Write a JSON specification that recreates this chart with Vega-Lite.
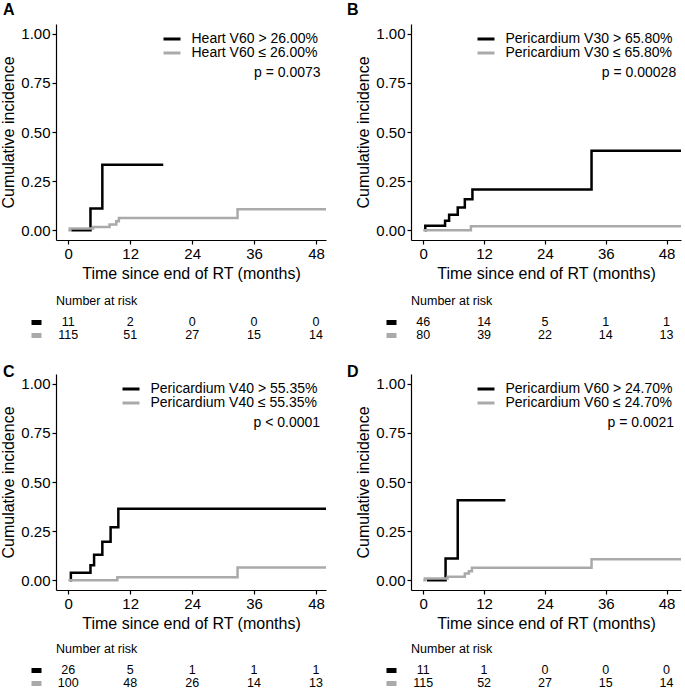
{
"$schema": "https://vega.github.io/schema/vega-lite/v6.json",
"padding": {"left": 0, "top": 2, "right": 0, "bottom": 0},
"config": {
  "font": "Liberation Sans",
  "view": {"stroke": null},
  "axis": {"grid": false, "domainColor": "black", "tickColor": "black", "labelColor": "black", "titleColor": "black", "labelFontSize": 15, "titleFontSize": 16, "titleFontWeight": "normal", "domainWidth": 1.2, "tickWidth": 1.2, "tickSize": 4, "labelPadding": 2, "titlePadding": 4},
  "legend": {"orient": "top-right", "offset": 8, "title": null, "symbolType": "M-1.7,0H1.7", "symbolSize": 100, "symbolStrokeWidth": 3, "symbolFillColor": "transparent", "labelFontSize": 14, "labelColor": "black", "labelOffset": 12.5, "labelLimit": 0, "rowPadding": 0, "padding": 0},
  "title": {"anchor": "start", "frame": "group", "color": "black"}
},
"datasets": {
  "curveA": [
    {"g": "Heart V60 > 26.00%", "t": 0.6, "ci": 0}, {"g": "Heart V60 > 26.00%", "t": 4.3, "ci": 0.111}, {"g": "Heart V60 > 26.00%", "t": 6.6, "ci": 0.333}, {"g": "Heart V60 > 26.00%", "t": 18.4, "ci": 0.333},
    {"g": "Heart V60 ≤ 26.00%", "t": 0, "ci": 0}, {"g": "Heart V60 ≤ 26.00%", "t": 0.3, "ci": 0.009}, {"g": "Heart V60 ≤ 26.00%", "t": 4.8, "ci": 0.016}, {"g": "Heart V60 ≤ 26.00%", "t": 8.0, "ci": 0.029}, {"g": "Heart V60 ≤ 26.00%", "t": 9.3, "ci": 0.046}, {"g": "Heart V60 ≤ 26.00%", "t": 9.8, "ci": 0.062}, {"g": "Heart V60 ≤ 26.00%", "t": 32.8, "ci": 0.107}, {"g": "Heart V60 ≤ 26.00%", "t": 49.94, "ci": 0.107}
  ],
  "curveB": [
    {"g": "Pericardium V30 > 65.80%", "t": 0.3, "ci": 0}, {"g": "Pericardium V30 > 65.80%", "t": 0.4, "ci": 0.022}, {"g": "Pericardium V30 > 65.80%", "t": 4.3, "ci": 0.048}, {"g": "Pericardium V30 > 65.80%", "t": 5.1, "ci": 0.079}, {"g": "Pericardium V30 > 65.80%", "t": 6.8, "ci": 0.116}, {"g": "Pericardium V30 > 65.80%", "t": 8.2, "ci": 0.158}, {"g": "Pericardium V30 > 65.80%", "t": 9.7, "ci": 0.207}, {"g": "Pericardium V30 > 65.80%", "t": 33.2, "ci": 0.405}, {"g": "Pericardium V30 > 65.80%", "t": 50.85, "ci": 0.405},
    {"g": "Pericardium V30 ≤ 65.80%", "t": 0, "ci": 0}, {"g": "Pericardium V30 ≤ 65.80%", "t": 9.4, "ci": 0.02}, {"g": "Pericardium V30 ≤ 65.80%", "t": 50.85, "ci": 0.02}
  ],
  "curveC": [
    {"g": "Pericardium V40 > 55.35%", "t": 0.3, "ci": 0}, {"g": "Pericardium V40 > 55.35%", "t": 0.5, "ci": 0.038}, {"g": "Pericardium V40 > 55.35%", "t": 4.3, "ci": 0.076}, {"g": "Pericardium V40 > 55.35%", "t": 5.0, "ci": 0.13}, {"g": "Pericardium V40 > 55.35%", "t": 6.6, "ci": 0.196}, {"g": "Pericardium V40 > 55.35%", "t": 8.2, "ci": 0.27}, {"g": "Pericardium V40 > 55.35%", "t": 9.7, "ci": 0.364}, {"g": "Pericardium V40 > 55.35%", "t": 49.94, "ci": 0.364},
    {"g": "Pericardium V40 ≤ 55.35%", "t": 0, "ci": 0}, {"g": "Pericardium V40 ≤ 55.35%", "t": 9.5, "ci": 0.015}, {"g": "Pericardium V40 ≤ 55.35%", "t": 32.8, "ci": 0.064}, {"g": "Pericardium V40 ≤ 55.35%", "t": 49.94, "ci": 0.064}
  ],
  "curveD": [
    {"g": "Pericardium V60 > 24.70%", "t": 0.7, "ci": 0}, {"g": "Pericardium V60 > 24.70%", "t": 4.4, "ci": 0.111}, {"g": "Pericardium V60 > 24.70%", "t": 6.8, "ci": 0.407}, {"g": "Pericardium V60 > 24.70%", "t": 16.2, "ci": 0.407},
    {"g": "Pericardium V60 ≤ 24.70%", "t": 0, "ci": 0}, {"g": "Pericardium V60 ≤ 24.70%", "t": 0.3, "ci": 0.009}, {"g": "Pericardium V60 ≤ 24.70%", "t": 4.8, "ci": 0.017}, {"g": "Pericardium V60 ≤ 24.70%", "t": 8.2, "ci": 0.034}, {"g": "Pericardium V60 ≤ 24.70%", "t": 9.0, "ci": 0.045}, {"g": "Pericardium V60 ≤ 24.70%", "t": 9.6, "ci": 0.063}, {"g": "Pericardium V60 ≤ 24.70%", "t": 33.2, "ci": 0.106}, {"g": "Pericardium V60 ≤ 24.70%", "t": 50.85, "ci": 0.106}
  ],
  "riskA": [
    {"g": "hi", "t": 0, "n": 11}, {"g": "hi", "t": 12, "n": 2}, {"g": "hi", "t": 24, "n": 0}, {"g": "hi", "t": 36, "n": 0}, {"g": "hi", "t": 48, "n": 0},
    {"g": "lo", "t": 0, "n": 115}, {"g": "lo", "t": 12, "n": 51}, {"g": "lo", "t": 24, "n": 27}, {"g": "lo", "t": 36, "n": 15}, {"g": "lo", "t": 48, "n": 14}
  ],
  "riskB": [
    {"g": "hi", "t": 0, "n": 46}, {"g": "hi", "t": 12, "n": 14}, {"g": "hi", "t": 24, "n": 5}, {"g": "hi", "t": 36, "n": 1}, {"g": "hi", "t": 48, "n": 1},
    {"g": "lo", "t": 0, "n": 80}, {"g": "lo", "t": 12, "n": 39}, {"g": "lo", "t": 24, "n": 22}, {"g": "lo", "t": 36, "n": 14}, {"g": "lo", "t": 48, "n": 13}
  ],
  "riskC": [
    {"g": "hi", "t": 0, "n": 26}, {"g": "hi", "t": 12, "n": 5}, {"g": "hi", "t": 24, "n": 1}, {"g": "hi", "t": 36, "n": 1}, {"g": "hi", "t": 48, "n": 1},
    {"g": "lo", "t": 0, "n": 100}, {"g": "lo", "t": 12, "n": 48}, {"g": "lo", "t": 24, "n": 26}, {"g": "lo", "t": 36, "n": 14}, {"g": "lo", "t": 48, "n": 13}
  ],
  "riskD": [
    {"g": "hi", "t": 0, "n": 11}, {"g": "hi", "t": 12, "n": 1}, {"g": "hi", "t": 24, "n": 0}, {"g": "hi", "t": 36, "n": 0}, {"g": "hi", "t": 48, "n": 0},
    {"g": "lo", "t": 0, "n": 115}, {"g": "lo", "t": 12, "n": 52}, {"g": "lo", "t": 24, "n": 27}, {"g": "lo", "t": 36, "n": 15}, {"g": "lo", "t": 48, "n": 14}
  ]
},
"spacing": 23,
"resolve": {"scale": {"x": "independent", "y": "independent", "color": "independent"}, "legend": {"color": "independent"}},
"vconcat": [
 {"spacing": 16,
  "resolve": {"scale": {"x": "independent", "y": "independent", "color": "independent"}, "legend": {"color": "independent"}},
  "hconcat": [
  {"spacing": 13,
   "resolve": {"scale": {"x": "independent", "y": "independent", "color": "independent"}, "legend": {"color": "independent"}},
   "vconcat": [
    {"width": 270, "height": 216,
     "title": {"text": "A", "fontSize": 16, "fontWeight": "bold", "dx": -53, "offset": 6},
     "layer": [
      {"data": {"name": "curveA"}, "mark": {"type": "line", "interpolate": "step-after", "strokeWidth": 2.5},
       "encoding": {
        "x": {"field": "t", "type": "quantitative", "scale": {"domain": [-2.38, 49.94], "nice": false, "zero": false}, "axis": {"values": [0, 12, 24, 36, 48], "title": "Time since end of RT (months)"}},
        "y": {"field": "ci", "type": "quantitative", "scale": {"domain": [-0.05, 1.05], "nice": false, "zero": false}, "axis": {"values": [0, 0.25, 0.5, 0.75, 1], "format": ".2f", "title": "Cumulative incidence"}},
        "color": {"field": "g", "type": "nominal", "scale": {"domain": ["Heart V60 > 26.00%", "Heart V60 ≤ 26.00%"], "range": ["black", "#aaaaaa"]}}}},
      {"data": {"values": [{"p": "p = 0.0073"}]}, "mark": {"type": "text", "align": "right", "baseline": "middle", "fontSize": 14, "color": "black"},
       "encoding": {"x": {"datum": 48.9}, "y": {"datum": 0.8}, "text": {"field": "p"}}}
     ]},
    {"width": 270, "height": 26, "data": {"name": "riskA"},
     "title": {"text": "Number at risk", "fontSize": 12.5, "fontWeight": "normal", "offset": 8},
     "mark": {"type": "text", "fontSize": 12.5, "color": "black"},
     "encoding": {
      "x": {"field": "t", "type": "quantitative", "scale": {"domain": [-2.38, 49.94], "nice": false, "zero": false}, "axis": null},
      "y": {"field": "g", "type": "nominal", "scale": {"type": "point", "domain": ["hi", "lo"], "padding": 0.5}, "axis": {"title": null, "labels": false, "domain": false, "tickSize": 10, "tickWidth": 5, "offset": 15, "tickColor": {"condition": {"test": "datum.value === 'hi'", "value": "black"}, "value": "#aaaaaa"}}},
      "text": {"field": "n"}}}
   ]},
  {"spacing": 13,
   "resolve": {"scale": {"x": "independent", "y": "independent", "color": "independent"}, "legend": {"color": "independent"}},
   "vconcat": [
    {"width": 270, "height": 216,
     "title": {"text": "B", "fontSize": 16, "fontWeight": "bold", "dx": -64, "offset": 6},
     "layer": [
      {"data": {"name": "curveB"}, "mark": {"type": "line", "interpolate": "step-after", "strokeWidth": 2.5},
       "encoding": {
        "x": {"field": "t", "type": "quantitative", "scale": {"domain": [-2.42, 50.85], "nice": false, "zero": false}, "axis": {"values": [0, 12, 24, 36, 48], "title": "Time since end of RT (months)"}},
        "y": {"field": "ci", "type": "quantitative", "scale": {"domain": [-0.05, 1.05], "nice": false, "zero": false}, "axis": {"values": [0, 0.25, 0.5, 0.75, 1], "format": ".2f", "title": "Cumulative incidence"}},
        "color": {"field": "g", "type": "nominal", "scale": {"domain": ["Pericardium V30 > 65.80%", "Pericardium V30 ≤ 65.80%"], "range": ["black", "#aaaaaa"]}}}},
      {"data": {"values": [{"p": "p = 0.00028"}]}, "mark": {"type": "text", "align": "right", "baseline": "middle", "fontSize": 14, "color": "black"},
       "encoding": {"x": {"datum": 49.9}, "y": {"datum": 0.8}, "text": {"field": "p"}}}
     ]},
    {"width": 270, "height": 26, "data": {"name": "riskB"},
     "title": {"text": "Number at risk", "fontSize": 12.5, "fontWeight": "normal", "offset": 8},
     "mark": {"type": "text", "fontSize": 12.5, "color": "black"},
     "encoding": {
      "x": {"field": "t", "type": "quantitative", "scale": {"domain": [-2.42, 50.85], "nice": false, "zero": false}, "axis": null},
      "y": {"field": "g", "type": "nominal", "scale": {"type": "point", "domain": ["hi", "lo"], "padding": 0.5}, "axis": {"title": null, "labels": false, "domain": false, "tickSize": 10, "tickWidth": 5, "offset": 15, "tickColor": {"condition": {"test": "datum.value === 'hi'", "value": "black"}, "value": "#aaaaaa"}}},
      "text": {"field": "n"}}}
   ]}
 ]},
 {"spacing": 16,
  "resolve": {"scale": {"x": "independent", "y": "independent", "color": "independent"}, "legend": {"color": "independent"}},
  "hconcat": [
  {"spacing": 11,
   "resolve": {"scale": {"x": "independent", "y": "independent", "color": "independent"}, "legend": {"color": "independent"}},
   "vconcat": [
    {"width": 270, "height": 216,
     "title": {"text": "C", "fontSize": 16, "fontWeight": "bold", "dx": -53, "offset": -6},
     "layer": [
      {"data": {"name": "curveC"}, "mark": {"type": "line", "interpolate": "step-after", "strokeWidth": 2.5},
       "encoding": {
        "x": {"field": "t", "type": "quantitative", "scale": {"domain": [-2.38, 49.94], "nice": false, "zero": false}, "axis": {"values": [0, 12, 24, 36, 48], "title": "Time since end of RT (months)"}},
        "y": {"field": "ci", "type": "quantitative", "scale": {"domain": [-0.05, 1.05], "nice": false, "zero": false}, "axis": {"values": [0, 0.25, 0.5, 0.75, 1], "format": ".2f", "title": "Cumulative incidence"}},
        "color": {"field": "g", "type": "nominal", "scale": {"domain": ["Pericardium V40 > 55.35%", "Pericardium V40 ≤ 55.35%"], "range": ["black", "#aaaaaa"]}}}},
      {"data": {"values": [{"p": "p < 0.0001"}]}, "mark": {"type": "text", "align": "right", "baseline": "middle", "fontSize": 14, "color": "black"},
       "encoding": {"x": {"datum": 48.8}, "y": {"datum": 0.8}, "text": {"field": "p"}}}
     ]},
    {"width": 270, "height": 26, "data": {"name": "riskC"},
     "title": {"text": "Number at risk", "fontSize": 12.5, "fontWeight": "normal", "offset": 8},
     "mark": {"type": "text", "fontSize": 12.5, "color": "black"},
     "encoding": {
      "x": {"field": "t", "type": "quantitative", "scale": {"domain": [-2.38, 49.94], "nice": false, "zero": false}, "axis": null},
      "y": {"field": "g", "type": "nominal", "scale": {"type": "point", "domain": ["hi", "lo"], "padding": 0.5}, "axis": {"title": null, "labels": false, "domain": false, "tickSize": 10, "tickWidth": 5, "offset": 15, "tickColor": {"condition": {"test": "datum.value === 'hi'", "value": "black"}, "value": "#aaaaaa"}}},
      "text": {"field": "n"}}}
   ]},
  {"spacing": 11,
   "resolve": {"scale": {"x": "independent", "y": "independent", "color": "independent"}, "legend": {"color": "independent"}},
   "vconcat": [
    {"width": 270, "height": 216,
     "title": {"text": "D", "fontSize": 16, "fontWeight": "bold", "dx": -64, "offset": -6},
     "layer": [
      {"data": {"name": "curveD"}, "mark": {"type": "line", "interpolate": "step-after", "strokeWidth": 2.5},
       "encoding": {
        "x": {"field": "t", "type": "quantitative", "scale": {"domain": [-2.42, 50.85], "nice": false, "zero": false}, "axis": {"values": [0, 12, 24, 36, 48], "title": "Time since end of RT (months)"}},
        "y": {"field": "ci", "type": "quantitative", "scale": {"domain": [-0.05, 1.05], "nice": false, "zero": false}, "axis": {"values": [0, 0.25, 0.5, 0.75, 1], "format": ".2f", "title": "Cumulative incidence"}},
        "color": {"field": "g", "type": "nominal", "scale": {"domain": ["Pericardium V60 > 24.70%", "Pericardium V60 ≤ 24.70%"], "range": ["black", "#aaaaaa"]}}}},
      {"data": {"values": [{"p": "p = 0.0021"}]}, "mark": {"type": "text", "align": "right", "baseline": "middle", "fontSize": 14, "color": "black"},
       "encoding": {"x": {"datum": 49.5}, "y": {"datum": 0.8}, "text": {"field": "p"}}}
     ]},
    {"width": 270, "height": 26, "data": {"name": "riskD"},
     "title": {"text": "Number at risk", "fontSize": 12.5, "fontWeight": "normal", "offset": 8},
     "mark": {"type": "text", "fontSize": 12.5, "color": "black"},
     "encoding": {
      "x": {"field": "t", "type": "quantitative", "scale": {"domain": [-2.42, 50.85], "nice": false, "zero": false}, "axis": null},
      "y": {"field": "g", "type": "nominal", "scale": {"type": "point", "domain": ["hi", "lo"], "padding": 0.5}, "axis": {"title": null, "labels": false, "domain": false, "tickSize": 10, "tickWidth": 5, "offset": 15, "tickColor": {"condition": {"test": "datum.value === 'hi'", "value": "black"}, "value": "#aaaaaa"}}},
      "text": {"field": "n"}}}
   ]}
 ]}
]
}
